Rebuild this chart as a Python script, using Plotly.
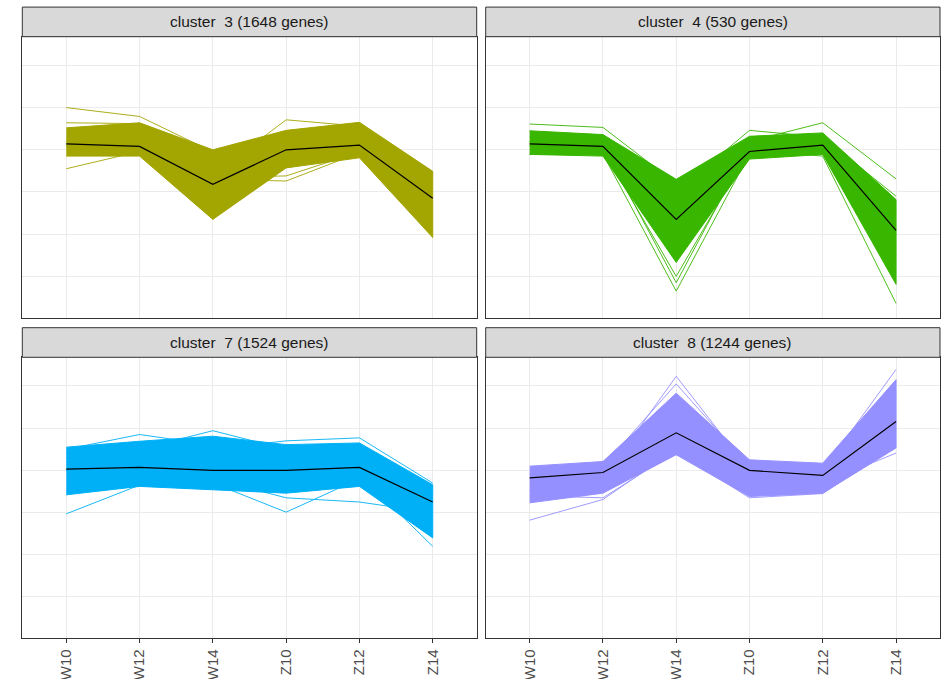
import plotly.graph_objects as go

# Sample order on the x axis
samples = ["W10", "W12", "W14", "Z10", "Z12", "Z14"]

# Cluster labels, sizes and colours (ggplot hue palette, 10 clusters)
cluster_ids = ["3", "4", "7", "8"]
gene_counts = [1648, 530, 1524, 1244]
cluster_colors = ["#A3A500", "#39B600", "#00B0F6", "#9590FF"]

# Cluster 3: centroid, envelope of the gene bundle, stray profiles
c3_mean = [0.14, 0.08, -0.82, 0.00, 0.11, -1.15]
c3_upper = [0.52, 0.64, 0.00, 0.46, 0.65, -0.51]
c3_lower = [-0.15, -0.15, -1.65, -0.43, -0.19, -2.08]
c3_strays = [
    [1.00, 0.79, -0.05, 0.35, 0.55, -0.55],
    [-0.45, -0.04, -0.90, 0.00, 0.10, -1.10],
    [0.20, 0.10, -0.60, 0.71, 0.56, -0.80],
    [0.10, 0.00, -0.70, -0.74, -0.07, -1.00],
    [0.05, 0.00, -0.65, -0.62, -0.05, -1.20],
    [0.64, 0.62, -0.30, 0.20, 0.40, -0.70],
]

# Cluster 4
c4_mean = [0.14, 0.08, -1.65, -0.04, 0.11, -1.91]
c4_upper = [0.45, 0.36, -0.70, 0.32, 0.40, -1.18]
c4_lower = [-0.11, -0.15, -2.67, -0.22, -0.11, -3.19]
c4_strays = [
    [0.61, 0.53, -0.80, 0.10, 0.20, -1.50],
    [-0.10, -0.10, -3.35, -0.10, 0.00, -2.00],
    [0.20, 0.10, -1.00, 0.46, 0.30, -1.50],
    [0.10, 0.00, -1.20, 0.20, 0.64, -0.69],
    [0.00, -0.05, -2.00, 0.00, -0.15, -3.64],
    [0.10, 0.00, -3.00, 0.00, 0.10, -2.50],
    [0.20, 0.10, -3.15, 0.10, 0.00, -2.20],
    [0.30, 0.20, -1.30, 0.20, 0.30, -1.10],
]

# Cluster 7
c7_mean = [0.03, 0.07, 0.00, 0.00, 0.07, -0.75]
c7_upper = [0.55, 0.69, 0.81, 0.61, 0.65, -0.34]
c7_lower = [-0.58, -0.38, -0.46, -0.54, -0.38, -1.60]
c7_strays = [
    [-1.03, -0.35, 0.10, 0.00, 0.10, -0.80],
    [0.20, 0.10, -0.30, -0.99, -0.20, -0.90],
    [0.00, 0.00, -0.20, -0.65, -0.75, -1.00],
    [0.50, 0.85, 0.60, 0.50, 0.50, -0.40],
    [0.40, 0.50, 0.94, 0.50, 0.50, -0.40],
    [0.30, 0.40, 0.50, 0.70, 0.77, -0.30],
    [0.00, 0.00, 0.00, -0.20, -0.10, -1.80],
]

# Cluster 8
c8_mean = [-0.18, -0.05, 0.89, 0.00, -0.12, 1.16]
c8_upper = [0.10, 0.21, 1.83, 0.25, 0.17, 2.15]
c8_lower = [-0.77, -0.54, 0.37, -0.62, -0.54, 0.53]
c8_strays = [
    [-1.18, -0.69, 0.50, -0.30, -0.30, 1.00],
    [-0.30, -0.20, 2.23, 0.00, -0.10, 1.50],
    [-0.20, -0.10, 1.20, 0.00, 0.00, 2.39],
    [-0.50, -0.50, 0.50, -0.30, -0.30, 0.41],
    [-0.10, 0.10, 2.05, 0.10, 0.00, 1.80],
    [-0.60, -0.65, 0.45, -0.65, -0.55, 0.60],
]

means = [c3_mean, c4_mean, c7_mean, c8_mean]
uppers = [c3_upper, c4_upper, c7_upper, c8_upper]
lowers = [c3_lower, c4_lower, c7_lower, c8_lower]
strays = [c3_strays, c4_strays, c7_strays, c8_strays]

W, H = 944, 679
FONT = "Liberation Sans, Arial, sans-serif"

# Panel boxes in pixels: (left, right, top, bottom) of the plotting area
panel_px = [
    (22.3, 476.7, 36.7, 317.7),
    (485.7, 940.0, 36.7, 317.7),
    (22.3, 476.7, 357.3, 638.3),
    (485.7, 940.0, 357.3, 638.3),
]
STRIP_H = 29.6

fig = go.Figure()
layout = dict(
    width=W, height=H,
    margin=dict(l=0, r=0, t=0, b=0),
    paper_bgcolor="white", plot_bgcolor="white",
    showlegend=False,
    font=dict(family=FONT),
)
shapes = []
annotations = []

for i in range(4):
    sfx = "" if i == 0 else str(i + 1)
    xa, ya = "x" + sfx, "y" + sfx
    col = cluster_colors[i]

    # Gene bundle envelope
    fig.add_trace(go.Scatter(
        x=samples + samples[::-1],
        y=uppers[i] + lowers[i][::-1],
        mode="lines", fill="toself", fillcolor=col,
        line=dict(color=col, width=1),
        xaxis=xa, yaxis=ya, hoverinfo="skip",
    ))
    # Individual stray gene profiles
    for prof in strays[i]:
        fig.add_trace(go.Scatter(
            x=samples, y=prof, mode="lines",
            line=dict(color=col, width=0.9),
            xaxis=xa, yaxis=ya, hoverinfo="skip",
        ))
    # Cluster centroid
    fig.add_trace(go.Scatter(
        x=samples, y=means[i], mode="lines",
        line=dict(color="black", width=1.2),
        xaxis=xa, yaxis=ya,
    ))

    l, r, t, b = panel_px[i]
    bottom_row = i >= 2
    layout["xaxis" + sfx] = dict(
        domain=[l / W, r / W], anchor=ya,
        type="category", categoryorder="array", categoryarray=samples,
        range=[-0.6, 5.6],
        showgrid=True, gridcolor="#EBEBEB", gridwidth=1,
        zeroline=False,
        showline=True, mirror=True, linecolor="#333333", linewidth=1,
        ticks="outside" if bottom_row else "", ticklen=4,
        tickcolor="#333333", tickwidth=1,
        showticklabels=bottom_row, tickangle=-90,
        tickfont=dict(family=FONT, size=15, color="#4D4D4D"),
        automargin=False, fixedrange=True,
    )
    layout["yaxis" + sfx] = dict(
        domain=[1 - b / H, 1 - t / H], anchor=xa,
        range=[-3.98, 2.68], tick0=0, dtick=1,
        showgrid=True, gridcolor="#EBEBEB", gridwidth=1,
        zeroline=False,
        showline=True, mirror=True, linecolor="#333333", linewidth=1,
        ticks="", showticklabels=False,
        automargin=False, fixedrange=True,
    )

    # Facet strip
    shapes.append(dict(
        type="rect", xref="paper", yref="paper",
        x0=l / W, x1=r / W, y0=1 - t / H, y1=1 - (t - STRIP_H) / H,
        fillcolor="#D9D9D9", line=dict(color="#333333", width=1),
        layer="above",
    ))
    annotations.append(dict(
        xref="paper", yref="paper",
        x=(l + r) / 2 / W, y=1 - (t - STRIP_H / 2) / H,
        text=f"cluster\u00a0 {cluster_ids[i]} ({gene_counts[i]} genes)",
        showarrow=False, xanchor="center", yanchor="middle",
        font=dict(family=FONT, size=15.5, color="#1A1A1A"),
    ))

layout["shapes"] = shapes
layout["annotations"] = annotations
fig.update_layout(**layout)

fig.write_html("out.html")
